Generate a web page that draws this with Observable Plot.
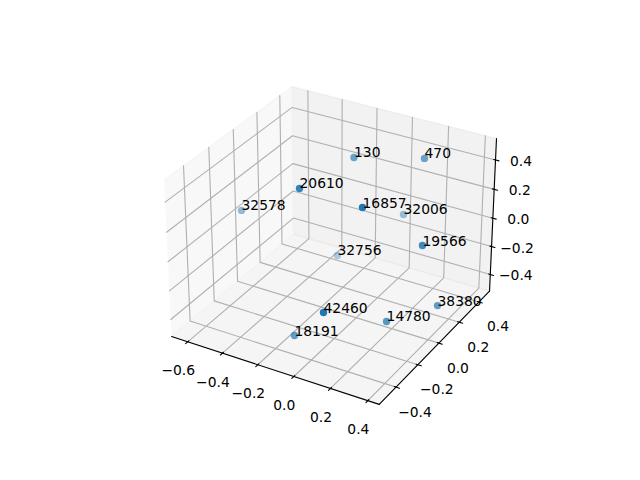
<!DOCTYPE html>
<html><head><meta charset="utf-8">
<script src="https://cdn.jsdelivr.net/npm/d3@7"></script>
<script src="https://cdn.jsdelivr.net/npm/@observablehq/plot@0.6"></script>
<style>html,body{margin:0;background:#fff}svg{display:block}</style>
</head><body><div id="chart"></div>
<script>
// Point labels and their 3D coordinates
const labels=["130","470","20610","16857","32006","32578","19566","32756","38380","14780","42460","18191"];
const xs=[-0.141,0.157,-0.151,0.194,-0.026,-0.704,0.381,-0.333,0.422,0.260,0.160,-0.140];
const ys=[0.201,0.357,-0.257,-0.270,0.486,0.064,-0.043,0.360,0.045,-0.153,-0.544,-0.329];
const zs=[0.411,0.406,0.487,0.488,-0.127,-0.057,0.153,-0.449,-0.305,-0.334,-0.025,-0.459];
const xTicks=[-0.6,-0.4,-0.2,0,0.2,0.4];
const yTicks=[-0.4,-0.2,0,0.2,0.4];
const zTicks=[-0.4,-0.2,0,0.2,0.4];
const xlim=[-0.671,0.437],ylim=[-0.528,0.488],zlim=[-0.50,0.523];

// Perspective camera: elevation 30, azimuth -60, box aspect 4:4:3
const f=1.8294640721620434/Math.sqrt(41);
const asp=[4*f,4*f,3*f];
const el=30*Math.PI/180,az=-60*Math.PI/180;
const Wv=[Math.cos(el)*Math.cos(az),Math.cos(el)*Math.sin(az),Math.sin(el)];
const cross=(a,b)=>[a[1]*b[2]-a[2]*b[1],a[2]*b[0]-a[0]*b[2],a[0]*b[1]-a[1]*b[0]];
const dot=(a,b)=>a[0]*b[0]+a[1]*b[1]+a[2]*b[2];
let Uv=cross([0,0,1],Wv);const n=Math.hypot(...Uv);Uv=Uv.map(d=>d/n);
const Vv=cross(Wv,Uv);
const Ev=asp.map((a,i)=>a/2+10*Wv[i]);
const lims=[xlim,ylim,zlim];
function proj(p){const w=p.map((v,i)=>(v-lims[i][0])/(lims[i][1]-lims[i][0])*asp[i]-Ev[i]);
 const d=-dot(Wv,w);return {x:dot(Uv,w)/d,y:dot(Vv,w)/d,d};}
const dl=[-0.095,0.09],rx=[143.2,512.8],ry=[427.2,57.6];

const exp=l=>[l[0]-(l[1]-l[0])/48,l[1]+(l[1]-l[0])/48];
const [x0,x1]=exp(xlim),[y0,y1]=exp(ylim),[z0,z1]=exp(zlim);
const dlt=[(xlim[1]-xlim[0])/12,(ylim[1]-ylim[0])/12];
const P=(a,id)=>a.map(p=>({...proj(p),id}));
const panes=[...P([[x0,y0,z0],[x0,y1,z0],[x0,y1,z1],[x0,y0,z1]],"x").map(d=>({...d,c:"rgba(242,242,242,0.5)"})),
...P([[x0,y1,z0],[x1,y1,z0],[x1,y1,z1],[x0,y1,z1]],"y").map(d=>({...d,c:"rgba(230,230,230,0.5)"})),
...P([[x0,y0,z0],[x1,y0,z0],[x1,y1,z0],[x0,y1,z0]],"z").map(d=>({...d,c:"rgba(236,236,236,0.5)"}))];
const grid=[...xTicks.flatMap(t=>P([[t,y0,z0],[t,y1,z0],[t,y1,z1]],"x"+t)),
...yTicks.flatMap(t=>P([[x1,t,z0],[x0,t,z0],[x0,t,z1]],"y"+t)),
...zTicks.flatMap(t=>P([[x0,y0,t],[x0,y1,t],[x1,y1,t]],"z"+t))];
const axes=[...P([[x0,y0,z0],[x1,y0,z0]],"ax"),...P([[x1,y0,z0],[x1,y1,z0]],"ay"),...P([[x1,y1,z0],[x1,y1,z1]],"az")];
const ticks=[...xTicks.flatMap(t=>P([[t,y0-.2*dlt[1],z0],[t,y0+.1*dlt[1],z0]],"tx"+t)),
...yTicks.flatMap(t=>P([[x1+.2*dlt[0],t,z0],[x1-.1*dlt[0],t,z0]],"ty"+t)),
...zTicks.flatMap(t=>P([[x1+.2*dlt[0],y1,t],[x1-.1*dlt[0],y1,t]],"tz"+t))];
const fmt=v=>v.toFixed(1).replace("-","\u2212");
const tlX=xTicks.map(t=>({...proj([t,y0,z0]),t:fmt(t)})),tlY=yTicks.map(t=>({...proj([x1,t,z0]),t:fmt(t)})),tlZ=zTicks.map(t=>({...proj([x1,y1,t]),t:fmt(t)}));
const pts=labels.map((l,i)=>({...proj([xs[i],ys[i],zs[i]]),l}));
const zp=pts.map(p=>-10/p.d),zmin=Math.min(...zp),zmax=Math.max(...zp);
pts.forEach((p,i)=>p.a=1-(zp[i]-zmin)/(zmax-zmin)*0.65);
pts.sort((a,b)=>b.d-a.d);
const font={fontFamily:"DejaVu Sans",fontSize:13.89,fill:"black"};
const svg=Plot.plot({width:640,height:480,margin:0,style:{background:"white"},
 x:{domain:dl,range:rx,axis:null},y:{domain:dl,range:ry,axis:null},
 marks:[
 Plot.line(panes,{x:"x",y:"y",z:"id",fill:"c",stroke:"c",strokeWidth:1.39}),
 Plot.line(grid,{x:"x",y:"y",z:"id",stroke:"#b0b0b0",strokeWidth:1.11}),
 Plot.line(axes,{x:"x",y:"y",z:"id",stroke:"black",strokeWidth:1.11}),
 Plot.line(ticks,{x:"x",y:"y",z:"id",stroke:"black",strokeWidth:1.11}),
 Plot.text(tlX,{x:"x",y:"y",text:"t",dx:-9.5,dy:29,...font}),
 Plot.text(tlY,{x:"x",y:"y",text:"t",dx:19,dy:25,...font}),
 Plot.text(tlZ,{x:"x",y:"y",text:"t",dx:25.5,dy:1.5,...font}),
 Plot.dot(pts,{x:"x",y:"y",r:3.7,fill:"#1f77b4",stroke:"none",fillOpacity:"a"}),
 Plot.text(pts,{x:"x",y:"y",text:"l",textAnchor:"start",lineAnchor:"bottom",...font})
 ]});
document.getElementById('chart').append(svg);
</script></body></html>
